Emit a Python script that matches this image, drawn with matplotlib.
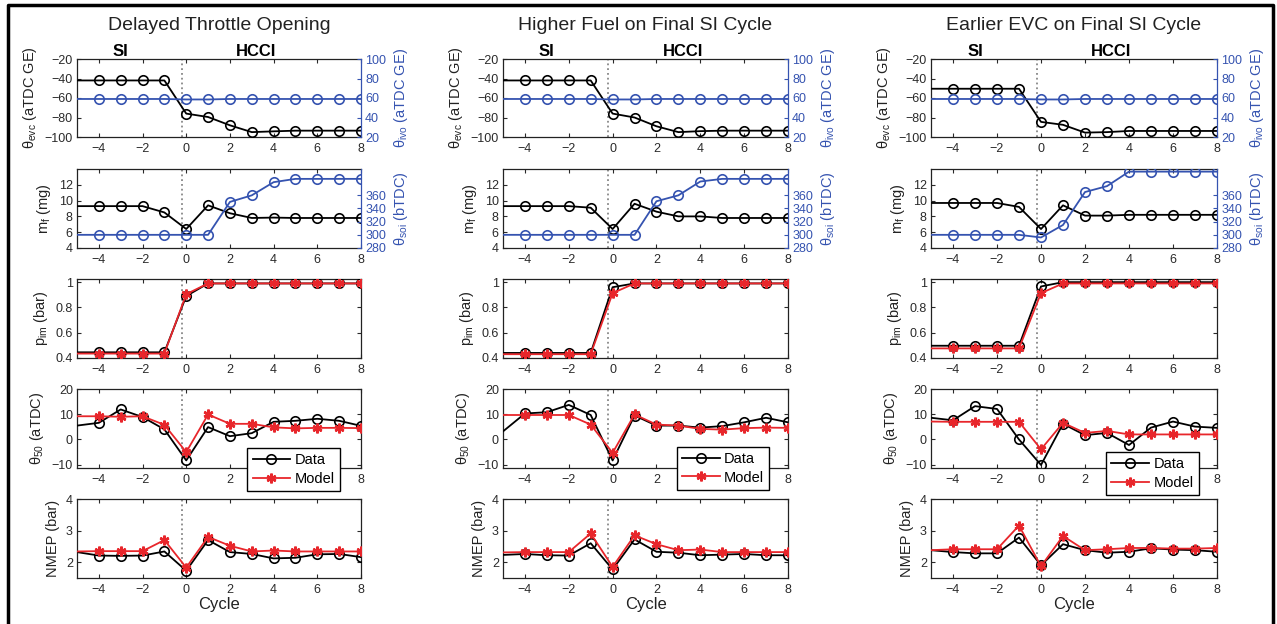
import numpy as np
import matplotlib
matplotlib.use("Agg")
import matplotlib.pyplot as plt
from matplotlib.lines import Line2D
from matplotlib.transforms import blended_transform_factory

plt.rcParams['font.family'] = ['Liberation Sans', 'DejaVu Sans']
plt.rcParams['mathtext.fontset'] = 'custom'
plt.rcParams['mathtext.rm'] = 'Liberation Sans'
plt.rcParams['mathtext.it'] = 'Liberation Sans'

# cycle numbers (first point sits on the left edge, no marker shown there)
cycles = np.arange(-5, 9)

titles = ["Delayed Throttle Opening", "Higher Fuel on Final SI Cycle", "Earlier EVC on Final SI Cycle"]

# theta_evc (aTDC GE)
evc = [
    [-42, -42, -42, -42, -42, -76, -79.5, -88, -95, -94.2, -93.5, -93.5, -93.5, -93.5],
    [-42, -42, -42, -42, -42, -76, -80, -89, -95, -94, -93.5, -93.5, -93.5, -93.5],
    [-50.5, -50.5, -50.5, -50.5, -50.5, -84.5, -87.5, -95.5, -95, -93.8, -93.8, -93.8, -93.8, -93.8],
]
# theta_ivo (aTDC GE)
ivo = [
    [59, 59, 59, 59, 59, 58.5, 58.5, 59, 59, 59, 59, 59, 59, 59],
    [59, 59, 59, 59, 59, 58.5, 58.5, 59, 59, 59, 59, 59, 59, 59],
    [59, 59, 59, 59, 59, 58.5, 58.5, 59, 59, 59, 59, 59, 59, 59],
]
# fuel mass (mg)
mf = [
    [9.3, 9.3, 9.3, 9.3, 8.5, 6.4, 9.4, 8.4, 7.8, 7.85, 7.8, 7.8, 7.8, 7.8],
    [9.3, 9.3, 9.3, 9.3, 9.1, 6.4, 9.6, 8.6, 8.0, 8.0, 7.8, 7.8, 7.8, 7.8],
    [9.7, 9.7, 9.7, 9.7, 9.2, 6.4, 9.4, 8.1, 8.1, 8.2, 8.2, 8.2, 8.2, 8.2],
]
# theta_soi (bTDC)
soi = [
    [300, 300, 300, 300, 300, 300, 300, 350, 360, 380, 385, 385, 385, 385],
    [300, 300, 300, 300, 300, 300, 300, 351, 360, 381, 385, 385, 385, 385],
    [300, 300, 300, 300, 300, 296, 315, 365, 374, 396, 396, 396, 396, 396],
]
# intake manifold pressure (bar)
pim_data = [
    [0.445, 0.445, 0.445, 0.445, 0.445, 0.89, 0.99, 0.99, 0.99, 0.99, 0.99, 0.99, 0.99, 0.99],
    [0.44, 0.44, 0.44, 0.44, 0.44, 0.96, 0.99, 0.99, 0.99, 0.99, 0.99, 0.99, 0.99, 0.99],
    [0.497, 0.497, 0.497, 0.497, 0.497, 0.966, 1.0, 1.0, 1.0, 1.0, 1.0, 1.0, 1.0, 1.0],
]
pim_model = [
    [0.435, 0.435, 0.435, 0.435, 0.435, 0.905, 0.99, 0.99, 0.99, 0.99, 0.99, 0.99, 0.99, 0.99],
    [0.43, 0.43, 0.43, 0.43, 0.43, 0.913, 0.99, 0.99, 0.99, 0.99, 0.99, 0.99, 0.99, 0.99],
    [0.476, 0.476, 0.476, 0.476, 0.476, 0.913, 0.99, 0.99, 0.99, 0.99, 0.99, 0.99, 0.99, 0.99],
]
# theta_50 (aTDC)
t50_data = [
    [5.5, 6.6, 11.9, 8.9, 4.0, -8.3, 4.9, 1.3, 2.5, 7.0, 7.4, 8.2, 7.4, 5.4],
    [3.2, 10.3, 10.8, 13.7, 9.7, -8.3, 9.5, 5.5, 5.5, 4.7, 5.3, 6.8, 8.6, 6.8],
    [8.6, 7.6, 13.2, 12.1, 0.0, -10.1, 6.2, 1.7, 2.6, -2.2, 4.7, 7.1, 5.1, 4.6],
]
t50_model = [
    [9.2, 9.2, 9.0, 9.2, 5.8, -5.0, 9.9, 6.2, 6.2, 4.8, 4.4, 4.6, 4.6, 4.5],
    [9.7, 9.7, 9.7, 9.7, 5.9, -5.3, 9.9, 5.9, 5.5, 4.2, 3.9, 4.5, 4.7, 4.6],
    [7.1, 7.0, 7.0, 7.0, 7.0, -3.9, 6.6, 2.6, 3.4, 2.0, 2.0, 2.0, 2.0, 2.0],
]
# NMEP (bar)
nmep_data = [
    [2.32, 2.21, 2.2, 2.21, 2.34, 1.73, 2.7, 2.32, 2.26, 2.12, 2.14, 2.25, 2.26, 2.16],
    [2.23, 2.26, 2.22, 2.21, 2.6, 1.77, 2.72, 2.33, 2.3, 2.22, 2.24, 2.26, 2.22, 2.22],
    [2.38, 2.32, 2.28, 2.28, 2.78, 1.9, 2.57, 2.38, 2.3, 2.33, 2.44, 2.4, 2.38, 2.33],
]
nmep_model = [
    [2.34, 2.35, 2.35, 2.35, 2.7, 1.83, 2.8, 2.52, 2.34, 2.37, 2.34, 2.34, 2.34, 2.34],
    [2.31, 2.32, 2.32, 2.32, 2.91, 1.85, 2.85, 2.57, 2.38, 2.4, 2.32, 2.32, 2.32, 2.32],
    [2.38, 2.41, 2.41, 2.41, 3.16, 1.87, 2.83, 2.38, 2.41, 2.45, 2.45, 2.43, 2.43, 2.45],
]

xticks = [-4, -2, 0, 2, 4, 6, 8]
blue = '#3553b0'
red = '#e8262b'
tickcol = '#2a2a2a'

W, H = 1277, 624
fig = plt.figure(figsize=(W / 100, H / 100), dpi=100)

col_x = [(77, 361), (503, 788), (931, 1217)]
row_y = [(59, 137), (169, 248), (279, 358), (389, 468), (499, 578)]
leg_pos = [(0.60, 0.25), (0.61, 0.265), (0.612, 0.20)]
marks = range(1, len(cycles))


def make_ax(c, r):
    l, rr = col_x[c]
    t, b = row_y[r]
    ax = fig.add_axes([l / W, 1 - b / H, (rr - l) / W, (b - t) / H])
    ax.set_xlim(-5, 8)
    ax.set_xticks(xticks)
    ax.tick_params(direction='in', length=3, labelsize=9, colors=tickcol, top=True, right=True, pad=3)
    ax.tick_params(axis='x', pad=4)
    for s in ax.spines.values():
        s.set_linewidth(0.9)
        s.set_color('#222222')
    ax.axvline(-0.2, color='#888888', ls=':', lw=1.3, zorder=1)
    return ax


def data_line(ax, y, color='black'):
    ax.plot(cycles, y, '-o', color=color, lw=1.3, ms=6.8, mfc='none', mew=1.2,
            markevery=marks, label='Data', zorder=3)


def model_line(ax, y):
    ax.plot(cycles, y, '-', color=red, lw=1.3, marker=(6, 2, 0), ms=7, mew=1.8,
            markevery=marks, label='Model', zorder=4)


for c in range(3):
    l, rr = col_x[c]
    fig.text((l + rr) / 2 / W, 1 - 25 / H, titles[c], ha='center', va='center', fontsize=14, color='#222222')

    # row 1: valve timings
    ax = make_ax(c, 0)
    ax.tick_params(right=False)
    ax.spines['right'].set_visible(False)
    data_line(ax, evc[c])
    ax.set_ylim(-100, -20)
    ax.set_yticks([-100, -80, -60, -40, -20])
    ax.set_ylabel(r'θ$_{\mathrm{evc}}$ (aTDC GE)', fontsize=10.5, color='#222222')
    ax2 = ax.twinx()
    ax2.set_xlim(-5, 8)
    data_line(ax2, ivo[c], blue)
    ax2.set_ylim(20, 100)
    ax2.set_yticks([20, 40, 60, 80, 100])
    ax2.tick_params(direction='in', length=3, labelsize=9, colors=blue, pad=3)
    for s in ax2.spines.values():
        s.set_visible(False)
    ax2.spines['right'].set_visible(True)
    ax2.spines['right'].set_color(blue)
    ax2.spines['right'].set_linewidth(0.9)
    ax2.set_ylabel(r'θ$_{\mathrm{ivo}}$ (aTDC GE)', fontsize=10.5, color=blue)
    tr = blended_transform_factory(ax.transData, ax.transAxes)
    ax.text(-3, 1.0, 'SI', transform=tr, ha='center', va='bottom', fontsize=12, fontweight='bold')
    ax.text(3.2, 1.0, 'HCCI', transform=tr, ha='center', va='bottom', fontsize=12, fontweight='bold')

    # row 2: fuel mass and injection timing
    ax = make_ax(c, 1)
    ax.tick_params(right=False)
    ax.spines['right'].set_visible(False)
    data_line(ax, mf[c])
    ax.set_ylim(4, 14)
    ax.set_yticks([4, 6, 8, 10, 12])
    ax.set_ylabel(r'm$_{\mathrm{f}}$ (mg)', fontsize=10.5, color='#222222')
    ax2 = ax.twinx()
    ax2.set_xlim(-5, 8)
    data_line(ax2, soi[c], blue)
    ax2.set_ylim(280, 400)
    ax2.set_yticks([280, 300, 320, 340, 360])
    ax2.tick_params(direction='in', length=3, labelsize=9, colors=blue, pad=3)
    for s in ax2.spines.values():
        s.set_visible(False)
    ax2.spines['right'].set_visible(True)
    ax2.spines['right'].set_color(blue)
    ax2.spines['right'].set_linewidth(0.9)
    ax2.set_ylabel(r'θ$_{\mathrm{soi}}$ (bTDC)', fontsize=10.5, color=blue)

    # row 3: intake pressure
    ax = make_ax(c, 2)
    data_line(ax, pim_data[c])
    model_line(ax, pim_model[c])
    ax.set_ylim(0.4, 1.025)
    ax.set_yticks([0.4, 0.6, 0.8, 1.0])
    ax.set_yticklabels(['0.4', '0.6', '0.8', '1'])
    ax.set_ylabel(r'p$_{\mathrm{im}}$ (bar)', fontsize=10.5, color='#222222')

    # row 4: combustion phasing (legend hides the 4 and 6 labels)
    ax = make_ax(c, 3)
    data_line(ax, t50_data[c])
    model_line(ax, t50_model[c])
    ax.set_ylim(-11.3, 20)
    ax.set_yticks([-10, 0, 10, 20])
    ax.set_xticklabels(['\u22124', '\u22122', '0', '2', '', '', '8'])
    ax.set_ylabel(r'θ$_{\mathrm{50}}$ (aTDC)', fontsize=10.5, color='#222222')
    leg = ax.legend(loc='upper left', bbox_to_anchor=leg_pos[c], borderaxespad=0, fancybox=False,
                    edgecolor='black', framealpha=1, fontsize=10.5, handlelength=2.6,
                    borderpad=0.35, labelspacing=0.3, handletextpad=0.3)
    leg.get_frame().set_linewidth(1.0)
    leg.set_zorder(10)

    # row 5: NMEP
    ax = make_ax(c, 4)
    data_line(ax, nmep_data[c])
    model_line(ax, nmep_model[c])
    ax.set_ylim(1.5, 4)
    ax.set_yticks([2, 3, 4])
    ax.set_ylabel('NMEP (bar)', fontsize=10.5, color='#222222')
    ax.set_xlabel('Cycle', fontsize=12, color='#222222', labelpad=1)

# outer frame (top, left, right)
fig.add_artist(Line2D([8 / W, 8 / W, 1273 / W, 1273 / W], [0, 1 - 5 / H, 1 - 5 / H, 0],
                      color='black', lw=2.5, transform=fig.transFigure))

fig.savefig('out.png', dpi=100)
